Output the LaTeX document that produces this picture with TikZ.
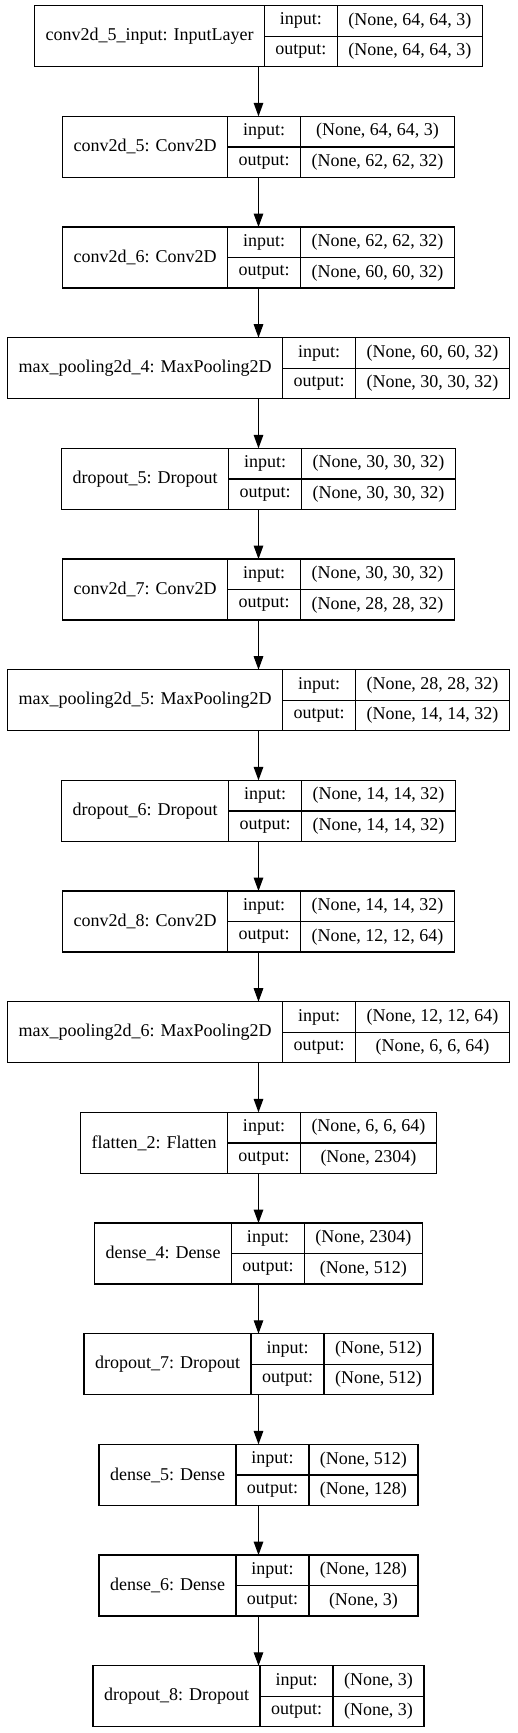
\documentclass[tikz,border=0pt]{standalone}
\usepackage{fontspec}
\setmainfont{Liberation Serif}
\usetikzlibrary{arrows.meta}

\newlength\labw \newlength\iow \newlength\shpw \newlength\shpa \newlength\shpb
\newcommand\layerfont{\fontsize{18}{20}\selectfont}
\newcommand\measure[2]{\settowidth#1{\pgfinterruptpicture\layerfont #2\endpgfinterruptpicture}}
\tikzset{
  cell/.style={draw, line width=1.3pt, inner sep=0pt, outer sep=0pt, font=\layerfont, anchor=north west},
  flow/.style={-{Triangle[length=13.5pt,width=9.5pt]}, line width=1.3pt}
}
%% one keras layer: #1 index, #2 label, #3 input shape, #4 output shape
\newcommand\layer[4]{%
  \measure\labw{#2}\addtolength\labw{22pt}%
  \measure\iow{output:}\addtolength\iow{22pt}%
  \measure\shpa{#3}\measure\shpb{#4}%
  \ifdim\shpa>\shpb \shpw=\shpa \else \shpw=\shpb \fi \addtolength\shpw{22pt}%
  \pgfmathsetmacro\laytop{-(5.7+110.67*(#1-1))}%
  \node[cell, minimum width=\labw, minimum height=61pt] (lay#1) at ({258.5pt-0.5*(\labw+\iow+\shpw)}, \laytop pt) {#2};
  \node[cell, minimum width=\iow, minimum height=30.5pt] (lay#1-in) at (lay#1.north east) {input:};
  \node[cell, minimum width=\iow, minimum height=30.5pt] (lay#1-out) at (lay#1-in.south west) {output:};
  \node[cell, minimum width=\shpw, minimum height=30.5pt] (lay#1-ins) at (lay#1-in.north east) {#3};
  \node[cell, minimum width=\shpw, minimum height=30.5pt] (lay#1-outs) at (lay#1-ins.south west) {#4};
  \coordinate (lay#1-top) at (258.5pt, \laytop pt);
  \coordinate (lay#1-bot) at (258.5pt, {\laytop pt-61pt});
}

\begin{document}
\begin{tikzpicture}
  \useasboundingbox (0,0) rectangle (517pt,-1733pt);
  \layer{1}{conv2d\_5\_input: InputLayer}{(None, 64, 64, 3)}{(None, 64, 64, 3)}
  \layer{2}{conv2d\_5: Conv2D}{(None, 64, 64, 3)}{(None, 62, 62, 32)}
  \layer{3}{conv2d\_6: Conv2D}{(None, 62, 62, 32)}{(None, 60, 60, 32)}
  \layer{4}{max\_pooling2d\_4: MaxPooling2D}{(None, 60, 60, 32)}{(None, 30, 30, 32)}
  \layer{5}{dropout\_5: Dropout}{(None, 30, 30, 32)}{(None, 30, 30, 32)}
  \layer{6}{conv2d\_7: Conv2D}{(None, 30, 30, 32)}{(None, 28, 28, 32)}
  \layer{7}{max\_pooling2d\_5: MaxPooling2D}{(None, 28, 28, 32)}{(None, 14, 14, 32)}
  \layer{8}{dropout\_6: Dropout}{(None, 14, 14, 32)}{(None, 14, 14, 32)}
  \layer{9}{conv2d\_8: Conv2D}{(None, 14, 14, 32)}{(None, 12, 12, 64)}
  \layer{10}{max\_pooling2d\_6: MaxPooling2D}{(None, 12, 12, 64)}{(None, 6, 6, 64)}
  \layer{11}{flatten\_2: Flatten}{(None, 6, 6, 64)}{(None, 2304)}
  \layer{12}{dense\_4: Dense}{(None, 2304)}{(None, 512)}
  \layer{13}{dropout\_7: Dropout}{(None, 512)}{(None, 512)}
  \layer{14}{dense\_5: Dense}{(None, 512)}{(None, 128)}
  \layer{15}{dense\_6: Dense}{(None, 128)}{(None, 3)}
  \layer{16}{dropout\_8: Dropout}{(None, 3)}{(None, 3)}
  %% arrows between consecutive layers
  \foreach \k [evaluate=\k as \j using int(\k+1)] in {1,...,15}
    \draw[flow] (lay\k-bot) -- (lay\j-top);
\end{tikzpicture}
\end{document}
